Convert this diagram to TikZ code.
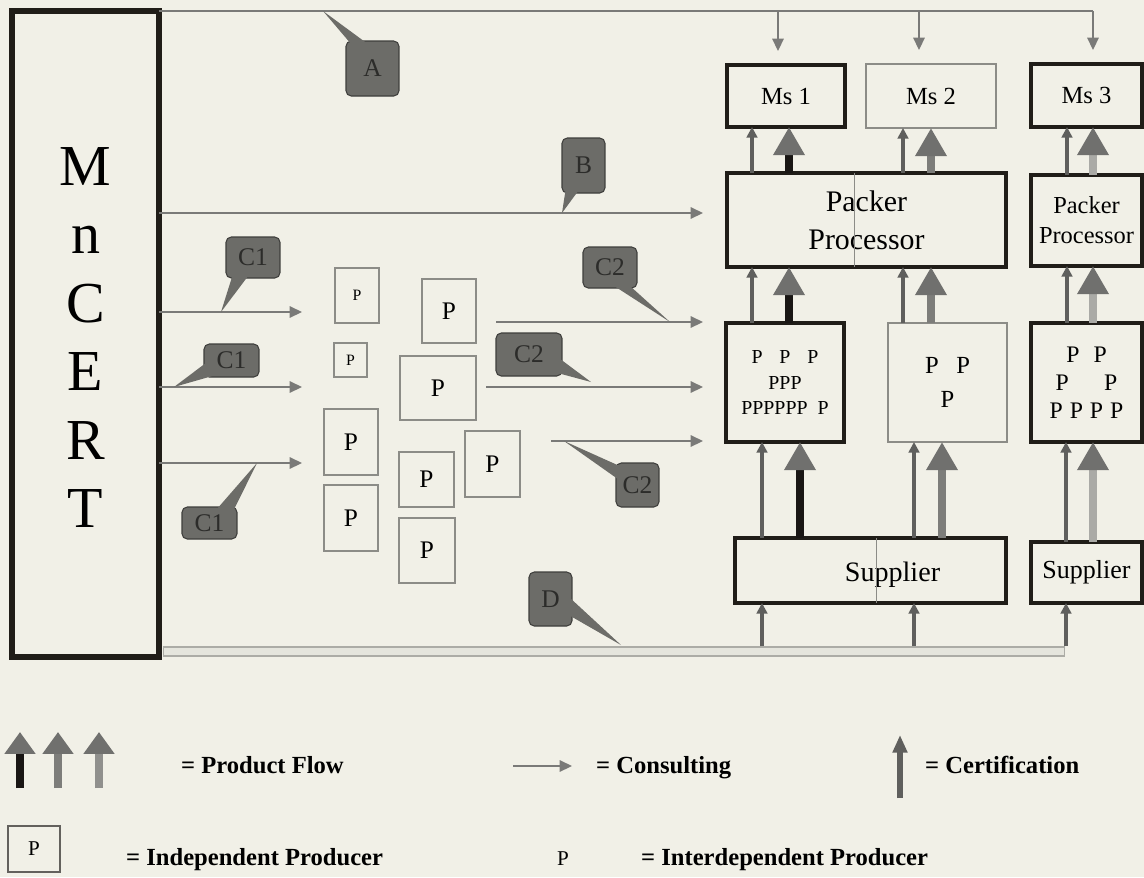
\documentclass[tikz,border=0pt]{standalone}
\usepackage{fontspec}
\setmainfont{Liberation Serif}
\usetikzlibrary{arrows.meta,positioning}
\definecolor{paper}{RGB}{241,240,231}
\definecolor{boxblack}{RGB}{32,29,24}
\definecolor{thingray}{RGB}{140,140,135}
\definecolor{headgray}{RGB}{112,112,110}
\definecolor{shaftA}{RGB}{25,22,20}
\definecolor{shaftB}{RGB}{125,125,122}
\definecolor{shaftC}{RGB}{170,170,166}
\definecolor{certgray}{RGB}{95,95,93}
\definecolor{consgray}{RGB}{122,122,120}
\definecolor{callfill}{RGB}{108,108,104}
\definecolor{calldraw}{RGB}{62,62,60}
\definecolor{calltext}{RGB}{44,44,42}
\definecolor{barline}{RGB}{172,172,166}
\definecolor{barfill}{RGB}{229,229,221}

\begin{document}
\begin{tikzpicture}[x=0.02cm, y=-0.02cm,
  heavybox/.style={draw=boxblack, line width=2.3pt, inner sep=0pt, outer sep=0pt, align=center},
  lightbox/.style={draw=thingray, line width=0.6pt, inner sep=0pt, outer sep=0pt, align=center},
  pbig/.style={lightbox, font=\fontsize{14.4}{16}\selectfont},
  psmall/.style={lightbox, font=\fontsize{9}{10}\selectfont},
  tag/.style={fill=callfill, draw=calldraw, line width=0.6pt, rounded corners=3pt,
              text=calltext, font=\fontsize{14.5}{15}\selectfont, inner sep=0pt},
  pointer/.style={fill=callfill},
  divider/.style={draw=thingray, line width=0.5pt},
  consline/.style={draw=consgray, line width=0.9pt},
  consult/.style={consline, -{Triangle[length=7pt,width=6.5pt]}},
  cert/.style={draw=certgray, line width=2.3pt, -{Triangle[length=6pt,width=6pt]}},
  flow/.style={line width=4pt, -{Triangle[length=16pt,width=17pt,color=headgray]}},
  legtext/.style={anchor=base west, font=\bfseries\fontsize{14}{16}\selectfont}
]
\useasboundingbox (0,0) rectangle (1144,877);
\fill[paper] (0,0) rectangle (1144,877);

\node[heavybox, line width=3.4pt, minimum width=2.96cm, minimum height=12.92cm] (mncert) at (85.5,334) {};
\node[font=\fontsize{33}{39}\selectfont, align=center] (mnlabel) at (85.5,337.5) {M\\n\\C\\E\\R\\T};

\node[heavybox, minimum width=2.36cm, minimum height=1.24cm, font=\fontsize{14}{16}\selectfont] (ms1) at (786,96) {Ms 1};
\node[lightbox, minimum width=2.6cm, minimum height=1.28cm, font=\fontsize{14}{16}\selectfont] (ms2) at (931,96) {Ms 2};
\node[heavybox, minimum width=2.22cm, minimum height=1.26cm, font=\fontsize{14}{16}\selectfont] (ms3) at (1086.5,95.5) {Ms 3};

\node[heavybox, minimum width=5.58cm, minimum height=1.88cm, font=\fontsize{17}{21.5}\selectfont] (pp1) at (866.5,220) {Packer\\Processor};
\node[heavybox, minimum width=2.22cm, minimum height=1.82cm, font=\fontsize{13.9}{17}\selectfont] (pp2) at (1086.5,220.5) {Packer\\Processor};

\node[heavybox, minimum width=2.36cm, minimum height=2.38cm, font=\fontsize{11.3}{14.7}\selectfont] (grp1) at (785,382.5)
  {P\hspace{9.6pt}P\hspace{9.6pt}P\\PPP\\PPPPPP\hspace{5.7pt}P};
\node[lightbox, minimum width=2.38cm, minimum height=2.38cm, font=\fontsize{14}{19.8}\selectfont] (grp2) at (947.5,382.5)
  {P\hspace{10pt}P\\P};
\node[heavybox, minimum width=2.22cm, minimum height=2.38cm, font=\fontsize{13.5}{16}\selectfont] (grp3) at (1086.5,382.5)
  {P\hspace{8pt}P\\P\hspace{20pt}P\\P\hspace{4pt}P\hspace{4pt}P\hspace{4pt}P};

\node[heavybox, minimum width=5.42cm, minimum height=1.3cm] (sup1) at (870.5,570.5) {};
\node[font=\fontsize{16}{18}\selectfont] (sup1txt) at ([shift={(22,4)}]sup1.center) {Supplier};
\node[heavybox, minimum width=2.22cm, minimum height=1.22cm, font=\fontsize{14.8}{17}\selectfont] (sup2) at (1086.5,572.5) {Supplier};

\node[draw=barline, fill=barfill, line width=0.6pt, inner sep=0pt, minimum width=18.04cm, minimum height=0.18cm] (dbar) at (614,651.5) {};

\draw[divider] ([xshift=2.54cm]pp1.north west) -- ([xshift=2.54cm]pp1.south west);
\draw[divider] ([xshift=2.82cm]sup1.north west) -- ([xshift=2.82cm]sup1.south west);

\node[pbig, minimum width=0.88cm, minimum height=1.1cm, font=\fontsize{9}{10}\selectfont] (p1) at (357,295.5) {P};
\node[pbig, minimum width=1.08cm, minimum height=1.28cm] (p2) at (449,311) {P};
\node[psmall, minimum width=0.66cm, minimum height=0.68cm] (p3) at (350.5,360) {P};
\node[pbig, minimum width=1.52cm, minimum height=1.28cm] (p4) at (438,388) {P};
\node[pbig, minimum width=1.08cm, minimum height=1.32cm] (p5) at (351,442) {P};
\node[pbig, minimum width=1.08cm, minimum height=1.32cm] (p6) at (351,518) {P};
\node[pbig, minimum width=1.1cm, minimum height=1.1cm] (p7) at (426.5,479.5) {P};
\node[pbig, minimum width=1.1cm, minimum height=1.32cm] (p8) at (492.5,464) {P};
\node[pbig, minimum width=1.12cm, minimum height=1.3cm] (p9) at (427,550.5) {P};

\coordinate (d1) at (778,0);
\coordinate (d2) at (919,0);
\coordinate (d3) at (1093,0);
\coordinate (cu1) at (752,0);
\coordinate (fu1) at (789,0);
\coordinate (cu2) at (903,0);
\coordinate (fu2) at (931,0);
\coordinate (cu3) at (1067,0);
\coordinate (fu3) at (1093,0);
\coordinate (cl1) at (762,0);
\coordinate (fl1) at (800,0);
\coordinate (cl2) at (914,0);
\coordinate (fl2) at (942,0);
\coordinate (cl3) at (1066,0);
\coordinate (fl3) at (1093,0);

\draw[consline] (mncert.north east) -- (mncert.north east -| d3);
\draw[consult, shorten >=0.28cm] (mncert.north east -| d1) -- (ms1.north -| d1);
\draw[consult, shorten >=0.28cm] (mncert.north east -| d2) -- (ms2.north -| d2);
\draw[consult, shorten >=0.28cm] (mncert.north east -| d3) -- (ms3.north -| d3);

\coordinate (bend) at (703,213);
\coordinate (c1a) at (302,312);
\coordinate (c1b) at (302,387);
\coordinate (c1c) at (302,463);
\coordinate (c2as) at (496,322);
\coordinate (c2ae) at (703,322);
\coordinate (c2bs) at (486,387);
\coordinate (c2be) at (703,387);
\coordinate (c2cs) at (551,441);
\coordinate (c2ce) at (703,441);
\draw[consult] (mncert.east |- bend) -- (bend);
\draw[consult] (mncert.east |- c1a) -- (c1a);
\draw[consult] (mncert.east |- c1b) -- (c1b);
\draw[consult] (mncert.east |- c1c) -- (c1c);
\draw[consult] (c2as) -- (c2ae);
\draw[consult] (c2bs) -- (c2be);
\draw[consult] (c2cs) -- (c2ce);

\draw[cert] (pp1.north -| cu1) -- (ms1.south -| cu1);
\draw[flow, draw=shaftA] (pp1.north -| fu1) -- (ms1.south -| fu1);
\draw[cert] (pp1.north -| cu2) -- (ms2.south -| cu2);
\draw[flow, draw=shaftB] (pp1.north -| fu2) -- (ms2.south -| fu2);
\draw[cert] (pp2.north -| cu3) -- (ms3.south -| cu3);
\draw[flow, draw=shaftC] (pp2.north -| fu3) -- (ms3.south -| fu3);

\draw[cert] (grp1.north -| cu1) -- (pp1.south -| cu1);
\draw[flow, draw=shaftA] (grp1.north -| fu1) -- (pp1.south -| fu1);
\draw[cert] (grp2.north -| cu2) -- (pp1.south -| cu2);
\draw[flow, draw=shaftB] (grp2.north -| fu2) -- (pp1.south -| fu2);
\draw[cert] (grp3.north -| cu3) -- (pp2.south -| cu3);
\draw[flow, draw=shaftC] (grp3.north -| fu3) -- (pp2.south -| fu3);

\draw[cert] (sup1.north -| cl1) -- (grp1.south -| cl1);
\draw[flow, draw=shaftA] (sup1.north -| fl1) -- (grp1.south -| fl1);
\draw[cert] (sup1.north -| cl2) -- (grp2.south -| cl2);
\draw[flow, draw=shaftB] (sup1.north -| fl2) -- (grp2.south -| fl2);
\draw[cert] (sup2.north -| cl3) -- (grp3.south -| cl3);
\draw[flow, draw=shaftC] (sup2.north -| fl3) -- (grp3.south -| fl3);

\draw[cert] (dbar.north -| cl1) -- (sup1.south -| cl1);
\draw[cert] (dbar.north -| cl2) -- (sup1.south -| cl2);
\draw[cert] (dbar.north -| cl3) -- (sup2.south -| cl3);

\node[tag, minimum width=1.06cm, minimum height=1.1cm] (ta) at (372.5,68.5) {A};
\node[tag, minimum width=0.86cm, minimum height=1.1cm] (tb) at (583.5,165.5) {B};
\node[tag, minimum width=1.08cm, minimum height=0.82cm] (tc1a) at (253,257.5) {C1};
\node[tag, minimum width=1.1cm, minimum height=0.66cm] (tc1b) at (231.5,360.5) {C1};
\node[tag, minimum width=1.1cm, minimum height=0.64cm] (tc1c) at (209.5,523) {C1};
\node[tag, minimum width=1.08cm, minimum height=0.82cm] (tc2a) at (610,267.5) {C2};
\node[tag, minimum width=1.32cm, minimum height=0.86cm] (tc2b) at (529,354.5) {C2};
\node[tag, minimum width=0.86cm, minimum height=0.88cm] (tc2c) at (637.5,485) {C2};
\node[tag, minimum width=0.86cm, minimum height=1.08cm] (td) at (550.5,599) {D};

\coordinate (tipa) at (323,11);
\coordinate (tipb) at (562,213);
\coordinate (tipc1a) at (221,312);
\coordinate (tipc1b) at (174,387);
\coordinate (tipc1c) at (257,463);
\coordinate (tipc2a) at (670,322);
\coordinate (tipc2b) at (591,382);
\coordinate (tipc2c) at (564,441);
\coordinate (tipd) at (621,645);
\fill[pointer] (tipa) -- ([shift={(6,4)}]ta.north west) -- ([shift={(23,4)}]ta.north west) -- cycle;
\fill[pointer] (tipb) -- ([shift={(4,-3)}]tb.south west) -- ([shift={(17,-3)}]tb.south west) -- cycle;
\fill[pointer] (tipc1a) -- ([shift={(7,-3)}]tc1a.south west) -- ([shift={(23,-3)}]tc1a.south west) -- cycle;
\fill[pointer] (tipc1b) -- ([shift={(3,-15)}]tc1b.south west) -- ([shift={(14,-3)}]tc1b.south west) -- cycle;
\fill[pointer] (tipc1c) -- ([shift={(-21,3)}]tc1c.north east) -- ([shift={(-4,4)}]tc1c.north east) -- cycle;
\fill[pointer] (tipc2a) -- ([shift={(31,-3)}]tc2a.south west) -- ([shift={(47,-3)}]tc2a.south west) -- cycle;
\fill[pointer] (tipc2b) -- ([shift={(-3,-18)}]tc2b.south east) -- ([shift={(-3,-3)}]tc2b.south east) -- cycle;
\fill[pointer] (tipc2c) -- ([shift={(3,3)}]tc2c.north west) -- ([shift={(3,17)}]tc2c.north west) -- cycle;
\fill[pointer] (tipd) -- ([shift={(-3,26)}]td.north east) -- ([shift={(-3,44)}]td.north east) -- cycle;

\draw[flow, draw=shaftA, -{Triangle[length=12.5pt,width=17pt,color=headgray]}] (20,788) -- (20,732);
\draw[flow, draw=shaftB, -{Triangle[length=12.5pt,width=17pt,color=headgray]}] (58,788) -- (58,732);
\draw[flow, draw=shaftC!85!black, -{Triangle[length=12.5pt,width=17pt,color=headgray]}] (99,788) -- (99,732);
\node[legtext] (lgflow) at (175,773) {= Product Flow};
\draw[consult] (513,766) -- (572,766);
\node[legtext] (lgcons) at (590,773) {= Consulting};
\draw[draw=certgray, line width=3.4pt, -{Triangle[length=10pt,width=8pt]}] (900,798) -- (900,735);
\node[legtext] (lgcert) at (919,773) {= Certification};

\node[draw=boxblack!70, line width=0.6pt, inner sep=0pt, minimum width=1.04cm, minimum height=0.92cm, font=\fontsize{12}{14}\selectfont] (lgpbox) at (34,849) {P};
\node[legtext] (lgind) at (120,865) {= Independent Producer};
\node[anchor=base, font=\fontsize{12}{14}\selectfont] (lgp) at (563,865) {P};
\node[legtext] (lginter) at (635,865) {= Interdependent Producer};
\end{tikzpicture}
\end{document}
